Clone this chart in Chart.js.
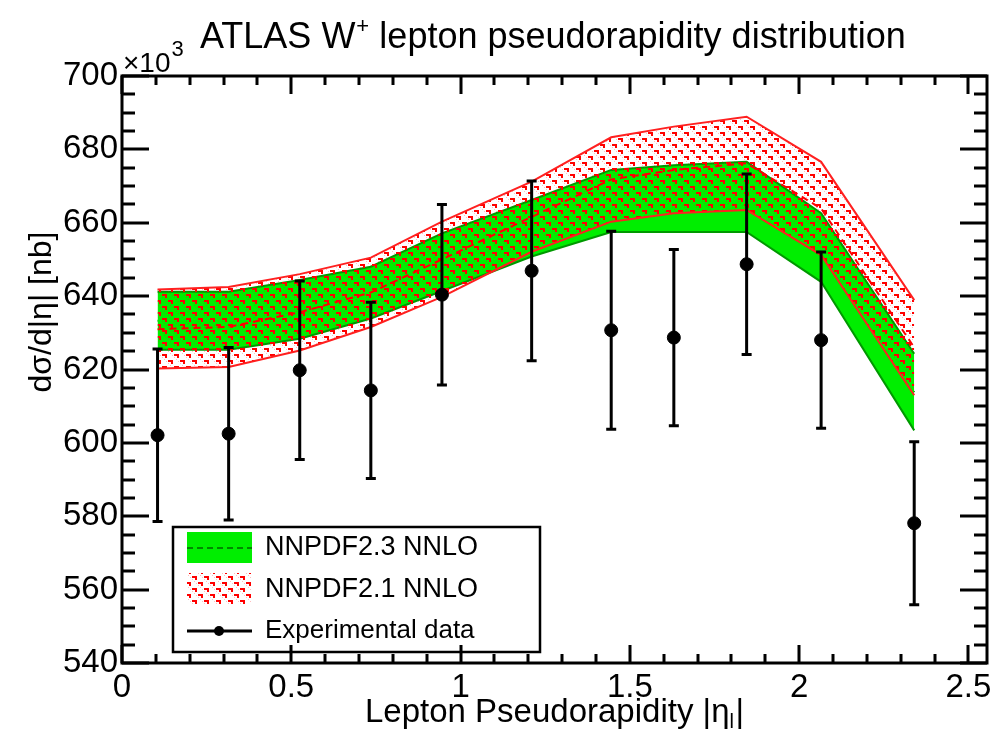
<!DOCTYPE html>
<html>
<head>
<meta charset="utf-8">
<script src="https://cdn.jsdelivr.net/npm/chart.js@4.4.1/dist/chart.umd.min.js"></script>
<style>
  body { margin: 0; background: #fff; }
  #wrap { width: 1008px; height: 731px; position: relative; }
</style>
</head>
<body>
<div id="wrap"><canvas id="etaChart" width="1008" height="731"></canvas></div>
<script>
// bin centres in |eta|
const etaBins = [0.105, 0.315, 0.525, 0.735, 0.945, 1.21, 1.445, 1.63, 1.845, 2.065, 2.34];

// ATLAS data (x10^3 nb)
const dataValues = [602.1, 602.5, 619.8, 614.3, 640.4, 646.9, 630.7, 628.7, 648.7, 628.0, 578.1];
const dataErrors = [23.5, 23.5, 24.3, 24.0, 24.6, 24.5, 27.0, 24.0, 24.6, 24.0, 22.2];

// NNPDF2.3 NNLO band
const nnpdf23Low     = [625.4, 625.4, 628.4, 633.9, 641.4, 650.8, 657.5, 657.5, 657.5, 643.9, 603.4];
const nnpdf23High    = [641.2, 641.2, 644.4, 648.0, 657.1, 666.2, 674.4, 675.7, 676.6, 662.6, 624.3];
const nnpdf23Central = [633.3, 633.3, 636.4, 641.0, 649.3, 658.5, 666.0, 666.6, 667.0, 653.2, 613.8];

// NNPDF2.1 NNLO band
const nnpdf21Low     = [620.3, 620.7, 625.2, 631.6, 639.8, 652.1, 660.3, 662.6, 663.5, 651.2, 613.0];
const nnpdf21High    = [641.8, 642.5, 646.0, 650.5, 660.3, 671.2, 683.3, 686.2, 688.9, 676.6, 638.9];
const nnpdf21Central = [631.0, 631.6, 635.6, 641.0, 650.0, 661.6, 671.8, 674.4, 676.2, 663.9, 626.0];

const xTicks = [0, 0.5, 1, 1.5, 2, 2.5];
const yTicks = [540, 560, 580, 600, 620, 640, 660, 680, 700];

const FONT = '"Liberation Sans", Arial, Helvetica, sans-serif';

function pts(ys) {
  return etaBins.map((x, i) => ({ x: x, y: ys[i] }));
}

// red hatch, roughly like the ROOT fill style
function makeHatch() {
  const c = document.createElement('canvas');
  c.width = 12; c.height = 12;
  const g = c.getContext('2d');
  g.fillStyle = 'rgba(255,0,0,0.25)';
  for (let i = 0; i < 12; i++) {
    if (i % 2 === 0) g.fillRect(i, (i + 3) % 12, 1, 1);
  }
  g.fillStyle = '#ff0000';
  g.fillRect(0, 0, 4, 2);
  g.fillRect(3, 0, 2, 4);
  g.fillRect(6, 6, 4, 2);
  g.fillRect(9, 6, 2, 4);
  return g.createPattern(c, 'repeat');
}
const hatch = makeHatch();

const frameTicks = {
  id: 'frameTicks',
  afterDraw(chart) {
    const ctx = chart.ctx;
    const a = chart.chartArea;
    const xs = chart.scales.x, ys = chart.scales.y;
    ctx.save();
    ctx.strokeStyle = '#000';
    ctx.lineWidth = 3;
    ctx.beginPath();
    // x ticks (major 0.5, minor 0.1)
    for (let k = 0; k <= 25; k++) {
      const px = Math.round(xs.getPixelForValue(k / 10));
      const len = (k % 5 === 0) ? 18 : 9;
      ctx.moveTo(px, a.bottom); ctx.lineTo(px, a.bottom - len);
      ctx.moveTo(px, a.top); ctx.lineTo(px, a.top + len);
    }
    // y ticks (major 20, minor 5)
    for (let v = 540; v <= 700; v += 5) {
      const py = Math.round(ys.getPixelForValue(v));
      const len = (v % 20 === 0) ? 27 : 13;
      ctx.moveTo(a.left, py); ctx.lineTo(a.left + len, py);
      ctx.moveTo(a.right, py); ctx.lineTo(a.right - len, py);
    }
    ctx.stroke();
    ctx.strokeRect(a.left, a.top, a.right - a.left, a.bottom - a.top);

    // error bars
    ctx.lineWidth = 3;
    ctx.beginPath();
    etaBins.forEach((x, i) => {
      const px = xs.getPixelForValue(x);
      const y1 = ys.getPixelForValue(dataValues[i] + dataErrors[i]);
      const y2 = ys.getPixelForValue(dataValues[i] - dataErrors[i]);
      ctx.moveTo(px, y1); ctx.lineTo(px, y2);
      ctx.moveTo(px - 5, y1); ctx.lineTo(px + 5, y1);
      ctx.moveTo(px - 5, y2); ctx.lineTo(px + 5, y2);
    });
    ctx.stroke();

    // title
    ctx.fillStyle = '#000';
    ctx.textBaseline = 'alphabetic';
    ctx.textAlign = 'left';
    ctx.font = '36px ' + FONT;
    let t1 = 'ATLAS W';
    ctx.fillText(t1, 200, 48);
    let w = ctx.measureText(t1).width;
    ctx.font = '22px ' + FONT;
    ctx.fillText('+', 200 + w + 1, 33);
    ctx.font = '36px ' + FONT;
    ctx.fillText(' lepton pseudorapidity distribution', 200 + w + 14, 48);

    ctx.font = '28px ' + FONT;
    ctx.fillText('\u00d710', 123, 72);
    let w2 = ctx.measureText('\u00d710').width;
    ctx.font = '22px ' + FONT;
    ctx.fillText('3', 123 + w2 + 1, 56);

    // x title
    ctx.font = '33px ' + FONT;
    let xt = 'Lepton Pseudorapidity |\u03b7';
    ctx.fillText(xt, 365, 722);
    let w3 = ctx.measureText(xt).width;
    ctx.font = '20px ' + FONT;
    ctx.fillText('l', 365 + w3, 728);
    ctx.font = '33px ' + FONT;
    ctx.fillText('|', 365 + w3 + 6, 722);

    // y title
    ctx.save();
    ctx.translate(51, 312);
    ctx.rotate(-Math.PI / 2);
    ctx.textAlign = 'center';
    ctx.font = '32px ' + FONT;
    ctx.fillText('d\u03c3/d|\u03b7| [nb]', 0, 0);
    ctx.restore();

    // legend
    ctx.lineWidth = 2.5;
    ctx.strokeRect(173, 527, 367, 125);
    ctx.fillStyle = '#00ee00';
    ctx.fillRect(187, 532, 65, 31);
    ctx.strokeStyle = '#008800';
    ctx.lineWidth = 2;
    ctx.setLineDash([6, 4]);
    ctx.beginPath(); ctx.moveTo(187, 548); ctx.lineTo(252, 548); ctx.stroke();
    ctx.setLineDash([]);
    ctx.fillStyle = hatch;
    ctx.fillRect(187, 573, 65, 32);
    ctx.strokeStyle = '#000';
    ctx.lineWidth = 3;
    ctx.beginPath(); ctx.moveTo(187, 631); ctx.lineTo(252, 631); ctx.stroke();
    ctx.fillStyle = '#000';
    ctx.beginPath(); ctx.arc(219, 631, 5, 0, Math.PI * 2); ctx.fill();
    ctx.font = '27px ' + FONT;
    ctx.textBaseline = 'middle';
    ctx.fillText('NNPDF2.3 NNLO', 265, 548);
    ctx.fillText('NNPDF2.1 NNLO', 265, 590);
    ctx.font = '26px ' + FONT;
    ctx.fillText('Experimental data', 265, 631);
    ctx.restore();
  }
};

new Chart(document.getElementById('etaChart'), {
  type: 'line',
  data: {
    datasets: [
      {
        label: 'Experimental data',
        data: pts(dataValues),
        showLine: false,
        pointRadius: 6.5,
        pointBackgroundColor: '#000',
        pointBorderColor: '#000',
        order: 0
      },
      {
        label: 'NNPDF2.1 low',
        data: pts(nnpdf21Low),
        borderColor: '#ff2020',
        borderWidth: 2,
        pointRadius: 0,
        fill: false,
        order: 1
      },
      {
        label: 'NNPDF2.1 NNLO',
        data: pts(nnpdf21High),
        borderColor: '#ff2020',
        borderWidth: 2,
        pointRadius: 0,
        backgroundColor: hatch,
        fill: 1,
        order: 1
      },
      {
        label: 'NNPDF2.1 central',
        data: pts(nnpdf21Central),
        borderColor: '#ff0000',
        borderWidth: 2,
        borderDash: [7, 5],
        pointRadius: 0,
        fill: false,
        order: 1
      },
      {
        label: 'NNPDF2.3 low',
        data: pts(nnpdf23Low),
        borderColor: '#009900',
        borderWidth: 2,
        pointRadius: 0,
        fill: false,
        order: 2
      },
      {
        label: 'NNPDF2.3 NNLO',
        data: pts(nnpdf23High),
        borderColor: '#009900',
        borderWidth: 2,
        pointRadius: 0,
        backgroundColor: '#00ee00',
        fill: 4,
        order: 2
      },
      {
        label: 'NNPDF2.3 central',
        data: pts(nnpdf23Central),
        borderColor: '#008800',
        borderWidth: 2,
        borderDash: [6, 4],
        pointRadius: 0,
        fill: false,
        order: 2
      }
    ]
  },
  options: {
    responsive: false,
    animation: false,
    layout: { padding: { left: 0, top: 76, right: 21, bottom: 0 } },
    plugins: {
      legend: { display: false },
      tooltip: { enabled: false }
    },
    elements: { line: { tension: 0 } },
    scales: {
      x: {
        type: 'linear',
        min: 0,
        max: 2.555,
        grid: { display: false, drawTicks: false },
        border: { display: false },
        afterBuildTicks: s => { s.ticks = xTicks.map(v => ({ value: v })); },
        afterFit: s => { s.height = 68; },
        ticks: {
          padding: 5,
          maxRotation: 0,
          color: '#000',
          font: { family: FONT, size: 33 },
          callback: v => String(v)
        }
      },
      y: {
        min: 540,
        max: 700,
        grid: { display: false, drawTicks: false },
        border: { display: false },
        afterBuildTicks: s => { s.ticks = yTicks.map(v => ({ value: v })); },
        afterFit: s => { s.width = 122; },
        ticks: {
          padding: 4,
          color: '#000',
          font: { family: FONT, size: 33 },
          callback: v => String(v)
        }
      }
    }
  },
  plugins: [frameTicks]
});
</script>
</body>
</html>
